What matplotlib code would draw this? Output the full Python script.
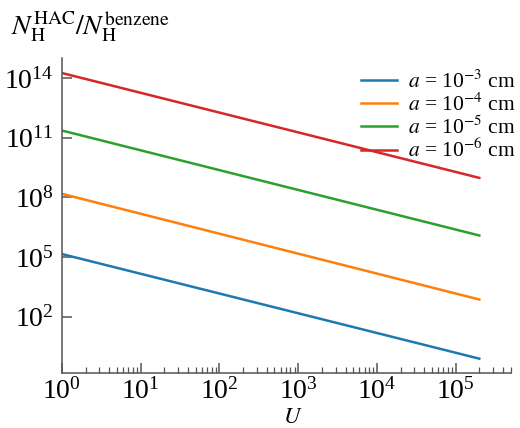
import matplotlib
matplotlib.use("Agg")
import matplotlib.pyplot as plt
from matplotlib.ticker import FixedLocator, NullLocator, LogLocator

# values (lines are straight on log-log axes)
U = [1.0, 2.0e5]
labels = [r"$a$ = 10$^{-3}$ cm", r"$a$ = 10$^{-4}$ cm",
          r"$a$ = 10$^{-5}$ cm", r"$a$ = 10$^{-6}$ cm"]
ratio_a3 = [1.4e5, 0.76]
ratio_a4 = [1.5e8, 7.2e2]
ratio_a5 = [2.3e11, 1.2e6]
ratio_a6 = [1.8e14, 9.5e8]
colors = ["#1f77b4", "#ff7f0e", "#2ca02c", "#d62728"]
yticks = [1e2, 1e5, 1e8, 1e11, 1e14]

plt.rcParams["font.family"] = ["Liberation Serif", "DejaVu Serif"]
plt.rcParams["mathtext.fontset"] = "stix"

fig = plt.figure(figsize=(5.2, 4.28), dpi=100)
ax = fig.add_axes([0.119, 0.129, 0.863, 0.735])

for vals, lab, c in zip([ratio_a3, ratio_a4, ratio_a5, ratio_a6], labels, colors):
    ax.plot(U, vals, color=c, lw=1.8, label=lab)

ax.set_xscale("log")
ax.set_yscale("log")
ax.set_xlim(1, 5e5)
ax.set_ylim(10 ** -0.83, 1e15)

ax.yaxis.set_major_locator(FixedLocator(yticks))
ax.yaxis.set_minor_locator(NullLocator())
ax.xaxis.set_major_locator(LogLocator(base=10, numticks=10))
ax.xaxis.set_minor_locator(LogLocator(base=10, subs=range(2, 10), numticks=10))

for s in ["top", "right"]:
    ax.spines[s].set_visible(False)
for s in ["left", "bottom"]:
    ax.spines[s].set_color("#555555")
    ax.spines[s].set_linewidth(1.1)

ax.tick_params(which="both", direction="in", color="#555555", labelsize=20)
ax.tick_params(which="major", length=7, width=1.1, pad=6)
ax.tick_params(axis="x", which="major", pad=4)
ax.tick_params(which="minor", length=4, width=0.9)

ax.set_xlabel(r"$U$", fontsize=16.5)
ax.xaxis.set_label_coords(0.515, -0.11)
fig.text(0.022, 0.918, r"$N_\mathrm{H}^\mathrm{HAC}/N_\mathrm{H}^\mathrm{benzene}$",
         fontsize=20, ha="left", va="baseline")

ax.legend(loc="upper right", bbox_to_anchor=(1.0, 0.845), bbox_transform=fig.transFigure,
          frameon=False, fontsize=15.5, handlelength=1.7, handletextpad=0.5,
          labelspacing=0.02, borderpad=0.1, borderaxespad=0.1)

fig.savefig("out.png", dpi=100)
